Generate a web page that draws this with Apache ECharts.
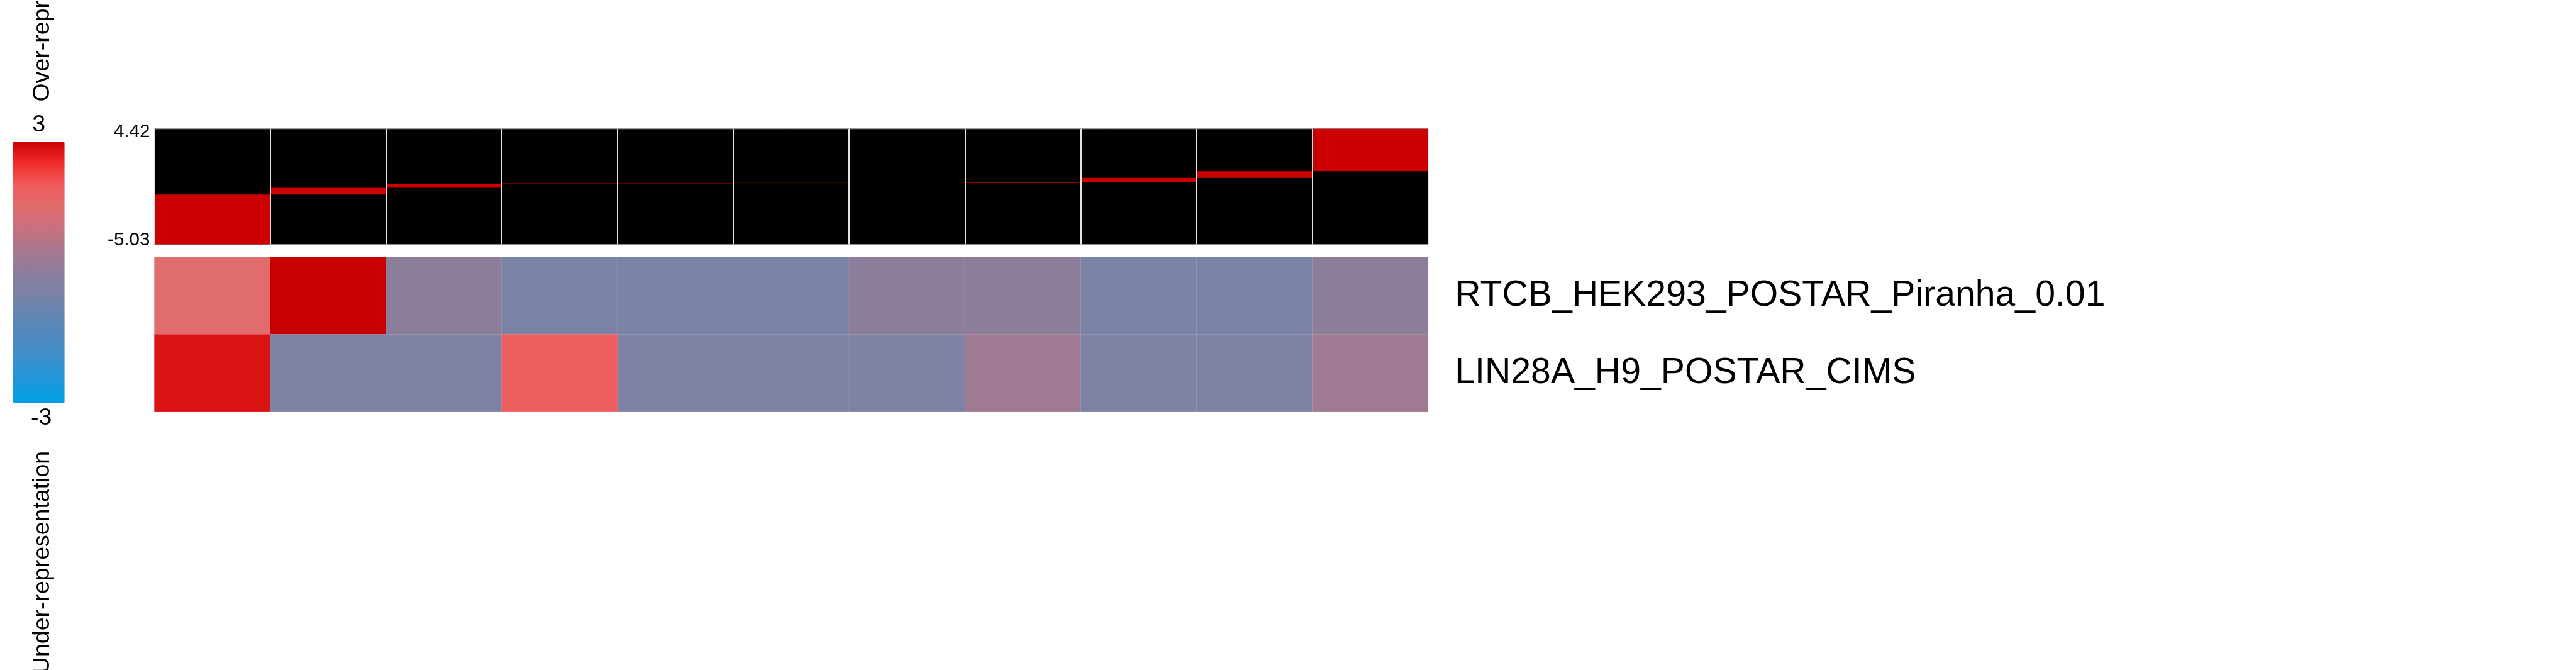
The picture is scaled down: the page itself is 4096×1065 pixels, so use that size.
<!DOCTYPE html>
<html><head><meta charset="utf-8">
<script src="https://cdn.jsdelivr.net/npm/echarts@6/dist/echarts.min.js"></script>
<style>html,body{margin:0;padding:0;background:#fff;overflow:hidden}#c{width:4096px;height:1065px}</style>
</head><body><div id="c"></div>
<script>
// ---- data ----
const bins = ['1','2','3','4','5','6','7','8','9','10','11'];
const binLow  = [-5.03, -0.95, -0.40, -0.07, -0.035, -0.010, -0.006, 0.004, 0.08, 0.41, 0.95];
const binHigh = [-0.95, -0.40, -0.07, -0.035, -0.010, -0.006, 0.004, 0.08, 0.41, 0.95, 4.42];
const rowNames = ['RTCB_HEK293_POSTAR_Piranha_0.01', 'LIN28A_H9_POSTAR_CIMS'];
const rtcbValues   = [1.5, 3.0, 0.0, -0.5, -0.5, -0.5, 0.0, 0.0, -0.5, -0.5, 0.0];
const lin28aValues = [2.8, -0.35, -0.35, 1.95, -0.35, -0.35, -0.35, 0.35, -0.35, -0.35, 0.35];
const scoreTickValues = [-5.03, 4.42];
const scoreTickLabels = ['-5.03', '4.42'];
const colorMin = -3, colorMax = 3;
const colorbarLabels = ['3', '-3'];
const colorbarTitles = ['Over-representation', 'Under-representation'];
const palette = ['#00A0E8','#1E97DA','#3A90CC','#5089BF','#6285B3','#7A82A6','#8C7D9B','#A87890','#C87080','#E06C6C','#F05C5C','#F22C2C','#C80000'];

// ---- build ----
const FONT = "'Liberation Sans', Arial, Helvetica, sans-serif";
const heatData = [];
[rtcbValues, lin28aValues].forEach((row, r) => row.forEach((v, c) => heatData.push([c, r, v])));
const binData = bins.map((b, i) => [i, binLow[i], binHigh[i]]);

const chart = echarts.init(document.getElementById('c'), null, {renderer: 'canvas'});
const L = 245.5, W = 2025.3;
chart.setOption({
  backgroundColor: '#ffffff',
  animation: false,
  grid: [
    {left: L, top: 204.8, width: W, height: 183.7, show: true, backgroundColor: '#000000', borderColor: '#8c8c8c', borderWidth: 1},
    {left: L, top: 408.5, width: W, height: 246.2}
  ],
  xAxis: [
    {type: 'category', gridIndex: 0, data: bins, z: 5,
     axisLine: {show: false}, axisTick: {show: false}, axisLabel: {show: false},
     splitLine: {show: true, interval: 0, lineStyle: {color: '#e4e4e4', width: 2}}},
    {type: 'category', gridIndex: 1, data: bins,
     axisLine: {show: false}, axisTick: {show: false}, axisLabel: {show: false}, splitLine: {show: false}}
  ],
  yAxis: [
    {type: 'value', gridIndex: 0, min: scoreTickValues[0], max: scoreTickValues[1],
     axisLine: {show: false}, axisTick: {show: false}, splitLine: {show: false},
     axisLabel: {show: true, customValues: scoreTickValues, margin: 7, color: '#000', fontFamily: FONT, fontSize: 29.6,
       formatter: function (v) {
         const i = scoreTickValues.indexOf(v);
         return i === 1 ? '{t|' + scoreTickLabels[i] + '}' : '{b|' + scoreTickLabels[i] + '}';
       },
       rich: {
         t: {fontFamily: FONT, fontSize: 29.6, color: '#000', padding: [9.5, 0, 0, 0]},
         b: {fontFamily: FONT, fontSize: 29.6, color: '#000', padding: [0, 0, 12.8, 0]}
       }}},
    {type: 'category', gridIndex: 1, data: rowNames, inverse: true, position: 'right',
     axisLine: {show: false}, axisTick: {show: false}, splitLine: {show: false},
     axisLabel: {show: true, margin: 42.5, color: '#000', fontFamily: FONT, fontSize: 57.2}}
  ],
  visualMap: {
    type: 'continuous', min: colorMin, max: colorMax, seriesIndex: 1, calculable: false,
    orient: 'vertical', left: 20.7, top: 225, itemWidth: 82, itemHeight: 416, padding: 0,
    inRange: {color: palette}, hoverLink: false
  },
  series: [
    {type: 'custom', xAxisIndex: 0, yAxisIndex: 0, data: binData, encode: {x: 0, y: [1, 2]},
     renderItem: function (params, api) {
       const x = api.value(0);
       const lo = api.coord([x, api.value(1)]);
       const hi = api.coord([x, api.value(2)]);
       const w = api.size([1, 0])[0];
       return {type: 'rect', shape: {x: lo[0] - w / 2, y: hi[1], width: w, height: lo[1] - hi[1]},
               style: {fill: '#CC0000'}};
     }},
    {type: 'heatmap', xAxisIndex: 1, yAxisIndex: 1, data: heatData,
     itemStyle: {borderColor: 'rgba(255,255,255,0.12)', borderWidth: 1}}
  ],
  graphic: [
    {type: 'text', x: 61.7, y: 198.3, style: {text: colorbarLabels[0], fontFamily: FONT, fontSize: 37.5, fill: '#000', align: 'center', verticalAlign: 'middle'}},
    {type: 'text', x: 65.6, y: 665, style: {text: colorbarLabels[1], fontFamily: FONT, fontSize: 37.5, fill: '#000', align: 'center', verticalAlign: 'middle'}},
    {type: 'text', x: 68, y: 161.4, rotation: Math.PI / 2, style: {text: colorbarTitles[0], fontFamily: FONT, fontSize: 37.5, fill: '#000', align: 'left', verticalAlign: 'middle'}},
    {type: 'text', x: 68, y: 716.8, rotation: Math.PI / 2, style: {text: colorbarTitles[1], fontFamily: FONT, fontSize: 37.5, fill: '#000', align: 'right', verticalAlign: 'middle'}}
  ]
});
</script></body></html>
